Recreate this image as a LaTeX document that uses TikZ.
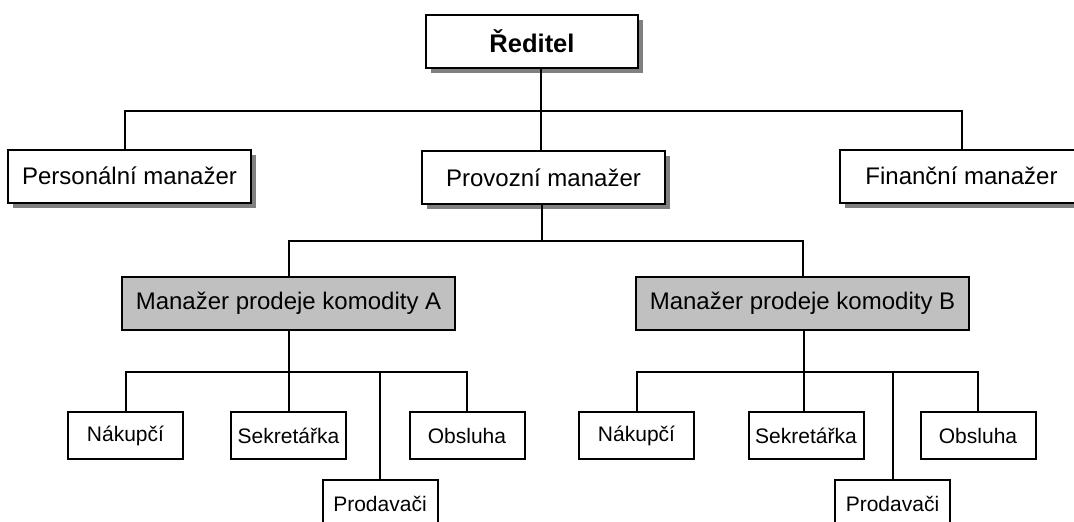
\documentclass[tikz,border=0pt]{standalone}
\usepackage{fontspec}
\setmainfont{Liberation Sans}
\usetikzlibrary{shadows}
\definecolor{shadowgray}{RGB}{128,128,128}
\definecolor{silverfill}{RGB}{192,192,192}
\begin{document}
\begin{tikzpicture}[x=1pt,y=-1pt,line width=2pt,
  box/.style={draw,fill=white,inner sep=0pt,minimum height=53pt,font=\fontsize{24}{28}\selectfont},
  shadowbox/.style={box,drop shadow={shadow xshift=5pt,shadow yshift=-5pt,fill=shadowgray,opacity=1}},
  headbox/.style={box,fill=silverfill,minimum width=333pt},
  smallbox/.style={draw,fill=white,inner sep=0pt,minimum width=115pt,minimum height=47pt,font=\fontsize{21}{25}\selectfont}]
\useasboundingbox (0,0) rectangle (1074,522);
\clip (0,0) rectangle (1074,522);
\node[shadowbox,minimum width=212pt,font=\bfseries\fontsize{25.5}{30}\selectfont] (dir) at (532,41.5) {Ředitel};
\node[shadowbox,minimum width=243pt] (pers) at (129.5,176) {Personální manažer};
\node[shadowbox,minimum width=243pt] (prov) at (543.5,177.5) {Provozní manažer};
\node[shadowbox,minimum width=243pt] (fin) at (961.5,176) {Finanční manažer};
\node[headbox] (mgra) at (288.5,303.5) {Manažer prodeje komodity A};
\node[headbox] (mgrb) at (802.5,303.5) {Manažer prodeje komodity B};
\node[smallbox] (buya) at (125.5,435.5) {Nákupčí};
\node[smallbox] (seca) at (288.5,435.5) {Sekretářka};
\node[smallbox] (sella) at (380,503.5) {Prodavači};
\node[smallbox] (serva) at (467,435.5) {Obsluha};
\node[smallbox] (buyb) at (636.5,435.5) {Nákupčí};
\node[smallbox] (secb) at (806,435.5) {Sekretářka};
\node[smallbox] (sellb) at (892.5,503.5) {Prodavači};
\node[smallbox] (servb) at (978,435.5) {Obsluha};
\coordinate (bus1) at (541,111);
\coordinate (bus2) at (542,241);
\coordinate (bus3) at (289,372);
\coordinate (bus4) at (804,372);
\draw (dir.south -| bus1) -- (prov.north -| bus1);
\draw ([xshift=-4.5pt]pers.north) |- (bus1) -| (fin.north);
\draw (prov.south -| bus2) -- (bus2);
\draw (mgra.north) |- (bus2) -| (mgrb.north);
\draw (mgra.south) -- (seca.north);
\draw (buya.north) |- (bus3) -| (serva.north);
\draw (sella.north) -- (sella.north |- bus3);
\draw (mgrb.south -| bus4) -- (secb.north -| bus4);
\draw (buyb.north) |- (bus4) -| (servb.north);
\draw (sellb.north) -- (sellb.north |- bus4);
\end{tikzpicture}
\end{document}
